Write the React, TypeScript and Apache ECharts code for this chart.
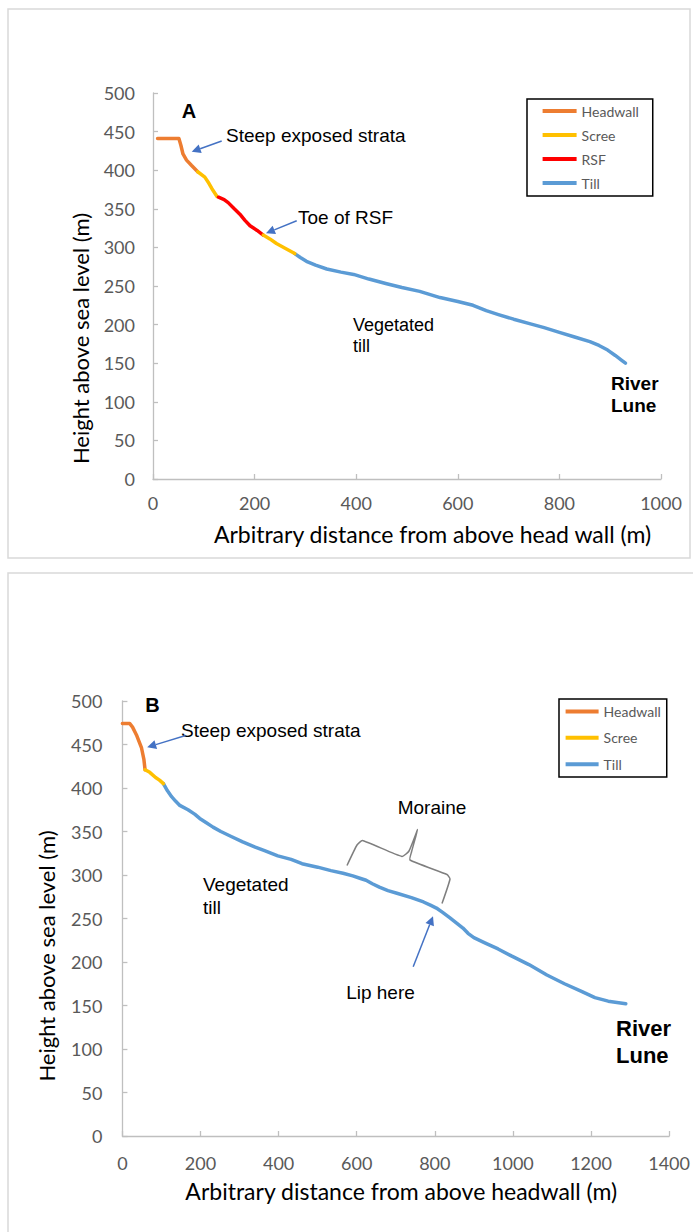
import { useEffect, useRef } from "react";
import * as echarts from "echarts";

// ---------- Panel A data ----------
const aHeadwall = [[9, 441], [30, 441], [51, 441], [55, 432], [59, 421], [66, 413], [76, 406], [88, 398]];
const aScree1 = [[88, 398], [102, 391], [110, 383], [116, 376], [126, 366]];
const aRsf = [[129, 365], [140, 362], [148, 358], [160, 350], [171, 343], [181, 335], [191, 328], [205, 322], [217, 316]];
const aScree2 = [[217, 316], [230, 311], [243, 305], [260, 299], [279, 292]];
const aTill = [[279, 292], [290, 287], [302, 282], [320, 277], [342, 272], [370, 268], [395, 265], [425, 259], [460, 253], [490, 248], [525, 243], [565, 235], [600, 230], [630, 225], [656, 218], [680, 213], [710, 207], [743, 201], [770, 196], [800, 190], [830, 184], [860, 178], [878, 173], [895, 167], [910, 160], [922, 154], [930, 150]];

// ---------- Panel B data ----------
const bHeadwall = [[0, 474], [19, 474], [26, 470], [36, 461], [49, 446], [55, 433], [58, 421]];
const bScree = [[58, 421], [70, 418], [85, 412], [95, 409], [105, 405]];
const bTill = [[105, 405], [115, 397], [126, 390], [136, 385], [147, 380], [168, 375], [185, 370], [198, 365], [215, 360], [232, 355], [252, 350], [280, 344], [308, 338], [340, 332], [364, 328], [398, 322], [432, 318], [460, 313], [500, 309], [534, 305], [565, 302], [590, 299], [610, 296], [624, 294], [640, 290], [658, 286], [680, 282], [703, 279], [740, 274], [771, 269], [790, 265], [804, 262], [820, 257], [838, 251], [855, 245], [872, 239], [885, 233], [900, 228], [928, 222], [962, 215], [996, 207], [1041, 197], [1087, 185], [1132, 175], [1177, 166], [1210, 159], [1244, 155], [1289, 152]];

const legendA = ["Headwall", "Scree", "RSF", "Till"];
const legendB = ["Headwall", "Scree", "Till"];

const COLORS: Record<string, string> = {
  Headwall: "#ED7D31",
  Scree: "#FFC000",
  RSF: "#FF0000",
  Till: "#5B9BD5",
};

const ANN = "Liberation Sans, Arial, sans-serif";
const AXF = "Lato, Carlito, Calibri, sans-serif";
const ARROW = "#4472C4";

function arrow(x1: number, y1: number, x2: number, y2: number) {
  const dx = x2 - x1, dy = y2 - y1;
  const len = Math.hypot(dx, dy);
  const ux = dx / len, uy = dy / len;
  const L = 9, w = 4.5;
  const bx = x2 - ux * L, by = y2 - uy * L;
  const nx = -uy, ny = ux;
  return [
    { type: "line", shape: { x1, y1, x2: bx, y2: by }, style: { stroke: ARROW, lineWidth: 1.5 } },
    {
      type: "polygon",
      shape: { points: [[x2, y2], [bx + nx * w, by + ny * w], [bx - nx * w, by - ny * w]] },
      style: { fill: ARROW },
    },
  ];
}

function txt(text: string, x: number, y: number, size: number, bold = false, align = "left") {
  return {
    type: "text",
    x,
    y,
    style: {
      text,
      fill: "#000",
      font: `${bold ? "bold " : ""}${size}px ${ANN}`,
      textAlign: align,
      textVerticalAlign: "middle",
    },
  };
}

function lineSeries(name: string, data: number[][], idx: number) {
  return {
    type: "line",
    name,
    data,
    xAxisIndex: idx,
    yAxisIndex: idx,
    showSymbol: false,
    symbol: "none",
    color: COLORS[name],
    lineStyle: { width: 3.5, color: COLORS[name], cap: "round", join: "round" },
    z: name === "Till" ? 2 : 3,
  };
}

const plain = (v: number) => String(v);

function makeX(idx: number, max: number, name: string, gap: number, padLeft: number, margin: number) {
  return {
    type: "value",
    gridIndex: idx,
    min: 0,
    max,
    interval: 200,
    name,
    nameLocation: "middle",
    nameGap: gap,
    nameTextStyle: { fontFamily: AXF, fontSize: 23, color: "#000", lineHeight: 23, padding: [0, 0, 0, padLeft] },
    axisLine: { show: true, lineStyle: { color: "#BFBFBF", width: 1.3 } },
    axisTick: { show: true, inside: true, length: 5, lineStyle: { color: "#BFBFBF", width: 1.3 } },
    axisLabel: { color: "#595959", fontFamily: AXF, fontSize: 18, margin, formatter: plain },
    splitLine: { show: false },
  };
}

function makeY(idx: number, name: string, gap: number, padRight: number, margin: number) {
  return {
    type: "value",
    gridIndex: idx,
    min: 0,
    max: 500,
    interval: 50,
    name,
    nameLocation: "middle",
    nameGap: gap,
    nameTextStyle: { fontFamily: AXF, fontSize: 22, color: "#000", lineHeight: 22, padding: [0, padRight, 0, 0] },
    axisLine: { show: true, lineStyle: { color: "#BFBFBF", width: 1.3 } },
    axisTick: { show: true, inside: true, length: 5, lineStyle: { color: "#BFBFBF", width: 1.3 } },
    axisLabel: { color: "#595959", fontFamily: AXF, fontSize: 18, margin, formatter: plain },
    splitLine: { show: false },
  };
}

export default function App() {
  const ref = useRef<HTMLDivElement>(null);
  useEffect(() => {
    if (!ref.current) return;
    const chart = echarts.init(ref.current, undefined, { renderer: "svg" });
    const legendCommon = {
      orient: "vertical",
      icon: "rect",
      itemHeight: 4,
      selectedMode: false,
      borderColor: "#000",
      borderWidth: 1.5,
      textStyle: { color: "#595959", fontFamily: AXF, fontSize: 14, lineHeight: 14 },
    };
    const braceB = [[347, 865.5], [357, 845], [362.4, 840.5], [402, 856.5], [409, 851], [417.6, 829.6], [411.5, 852], [410, 860], [447, 874.5], [450, 879], [442, 903.5]];
    chart.setOption({
      animation: false,
      backgroundColor: "#fff",
      grid: [
        { left: 153, top: 93, width: 508, height: 386 },
        { left: 122.4, top: 701, width: 548.4, height: 435 },
      ],
      xAxis: [
        makeX(0, 1000, "Arbitrary distance from above head wall (m)", 43.5, 51, 15),
        makeX(1, 1400, "Arbitrary distance from above headwall (m)", 43, 11, 18),
      ],
      yAxis: [
        makeY(0, "Height above sea level (m)", 61.4, 105, 18),
        makeY(1, "Height above sea level (m)", 65, 75, 20),
      ],
      legend: [
        {
          ...legendCommon,
          data: legendA,
          left: 527,
          top: 99,
          itemWidth: 34,
          itemGap: 10,
          padding: [5, 14, 6, 15.6],
        },
        {
          ...legendCommon,
          data: legendB,
          left: 559,
          top: 699,
          itemWidth: 33,
          itemGap: 12.4,
          padding: [5.4, 6, 5.8, 6.6],
        },
      ],
      series: [
        lineSeries("Headwall", aHeadwall, 0),
        lineSeries("Scree", aScree1, 0),
        lineSeries("RSF", aRsf, 0),
        lineSeries("Scree", aScree2, 0),
        lineSeries("Till", aTill, 0),
        lineSeries("Headwall", bHeadwall, 1),
        lineSeries("Scree", bScree, 1),
        lineSeries("Till", bTill, 1),
      ],
      graphic: [
        { type: "rect", shape: { x: 8, y: 9, width: 682, height: 549 }, style: { fill: "none", stroke: "#D9D9D9", lineWidth: 1.5 }, silent: true },
        { type: "rect", shape: { x: 8, y: 573, width: 720, height: 720 }, style: { fill: "none", stroke: "#D9D9D9", lineWidth: 1.5 }, silent: true },
        // Panel A annotations
        txt("A", 189, 111, 20, true, "center"),
        txt("Steep exposed strata", 226, 135, 19),
        ...arrow(221.7, 141, 191.7, 151.7),
        txt("Toe of RSF", 298, 217, 19),
        ...arrow(296.7, 220.7, 266, 233.3),
        txt("Vegetated", 353, 325, 18),
        txt("till", 353, 346, 18),
        txt("River", 611, 383, 19, true),
        txt("Lune", 611, 405, 19, true),
        // Panel B annotations
        txt("B", 152.5, 705, 20, true, "center"),
        txt("Steep exposed strata", 181, 730, 19),
        ...arrow(185.6, 735.5, 147.2, 747.3),
        txt("Moraine", 432, 807, 19, false, "center"),
        { type: "polyline", shape: { points: braceB, smooth: 0.15 }, style: { stroke: "#7F7F7F", lineWidth: 1.5, fill: "none" } },
        txt("Lip here", 380.5, 992, 19, false, "center"),
        ...arrow(413.2, 966.8, 433, 916.2),
        txt("Vegetated", 203, 884, 19),
        txt("till", 203, 907, 19),
        txt("River", 616, 1028, 22, true),
        txt("Lune", 616, 1055, 22, true),
      ],
    });
    return () => chart.dispose();
  }, []);
  return (
    <div
      ref={ref}
      style={{ position: "fixed", left: 0, top: 0, width: 693, height: 1232, background: "#fff" }}
    />
  );
}
